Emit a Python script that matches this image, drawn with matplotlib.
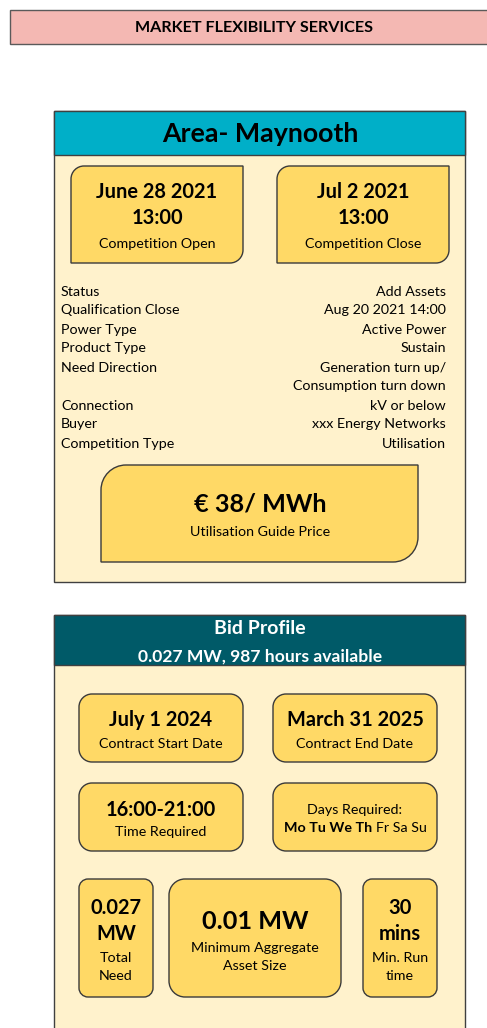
import matplotlib
matplotlib.use('Agg')
import matplotlib.pyplot as plt
from matplotlib.path import Path
import matplotlib.patches as mpatches

plt.rcParams['font.family'] = ['Lato', 'DejaVu Sans']

# =============================== #
# dados

titulo_banner = 'MARKET FLEXIBILITY SERVICES'
titulo_area = 'Area- Maynooth'

competicao_datas = ['June 28 2021', 'Jul 2 2021']
competicao_horas = ['13:00', '13:00']
competicao_rotulos = ['Competition Open', 'Competition Close']

info_rotulos = ['Status', 'Qualification Close', 'Power Type', 'Product Type',
                'Need Direction', '', 'Connection', 'Buyer', 'Competition Type']
info_valores = ['Add Assets', 'Aug 20 2021 14:00', 'Active Power', 'Sustain',
                'Generation turn up/', 'Consumption turn down', 'kV or below',
                'xxx Energy Networks', 'Utilisation']

preco_valor = '€ 38/ MWh'
preco_rotulo = 'Utilisation Guide Price'

bid_titulo = 'Bid Profile'
bid_subtitulo = '0.027 MW, 987 hours available'

contrato_valores = ['July 1 2024', 'March 31 2025']
contrato_rotulos = ['Contract Start Date', 'Contract End Date']
tempo_valor = '16:00-21:00'
tempo_rotulo = 'Time Required'
dias_titulo = 'Days Required:'
dias_sim = ['Mo', 'Tu', 'We', 'Th']
dias_nao = ['Fr', 'Sa', 'Su']

total_valor = ['0.027', 'MW']
total_rotulo = ['Total', 'Need']
minimo_valor = '0.01 MW'
minimo_rotulo = ['Minimum Aggregate', 'Asset Size']
run_valor = ['30', 'mins']
run_rotulo = ['Min. Run', 'time']

# =============================== #
# cores e tamanhos

cor_banner = '#F4B8B3'
cor_area = '#00AFC8'
cor_bid = '#005A68'
cor_corpo = '#FFF2CC'
cor_caixa = '#FFD966'
cor_borda = '#3A3A3A'

fonte_peq = 10.3
fonte_val = 14.4


def caixa(ax, x0, y0, x1, y1, r_tl=0, r_tr=0, r_br=0, r_bl=0, cor=cor_caixa, lw=1.0, borda=cor_borda):
    # retangulo com cantos arredondados individuais (y cresce para baixo)
    k = 0.5523
    v = []
    c = []

    def canto(p0, cc, p3):
        p1 = (p0[0] + k * (cc[0] - p0[0]), p0[1] + k * (cc[1] - p0[1]))
        p2 = (p3[0] + k * (cc[0] - p3[0]), p3[1] + k * (cc[1] - p3[1]))
        v.extend([p1, p2, p3])
        c.extend([Path.CURVE4] * 3)

    v.append((x0 + r_tl, y0)); c.append(Path.MOVETO)
    v.append((x1 - r_tr, y0)); c.append(Path.LINETO)
    if r_tr:
        canto((x1 - r_tr, y0), (x1, y0), (x1, y0 + r_tr))
    v.append((x1, y1 - r_br)); c.append(Path.LINETO)
    if r_br:
        canto((x1, y1 - r_br), (x1, y1), (x1 - r_br, y1))
    v.append((x0 + r_bl, y1)); c.append(Path.LINETO)
    if r_bl:
        canto((x0 + r_bl, y1), (x0, y1), (x0, y1 - r_bl))
    v.append((x0, y0 + r_tl)); c.append(Path.LINETO)
    if r_tl:
        canto((x0, y0 + r_tl), (x0, y0), (x0 + r_tl, y0))
    v.append((x0 + r_tl, y0)); c.append(Path.CLOSEPOLY)
    ax.add_patch(mpatches.PathPatch(Path(v, c), facecolor=cor, edgecolor=borda, lw=lw))


def texto(ax, x, y, s, tam, negrito=False, cor='black', ha='center'):
    # +1.5 px: centro do bbox do matplotlib fica um pouco acima do centro visual
    return ax.text(x, y + 1.5, s, fontsize=tam, fontweight='bold' if negrito else 'normal',
                   color=cor, ha=ha, va='center')


fig = plt.figure(figsize=(4.87, 10.28), dpi=100)
ax = fig.add_axes([0, 0, 1, 1])
ax.set_xlim(0, 487)
ax.set_ylim(1028, 0)
ax.axis('off')

# =============================== #
# banner

caixa(ax, 10, 10, 492, 44, cor=cor_banner, borda='#5A5A5A')
texto(ax, 254, 27, titulo_banner, 11.6, True)

# =============================== #
# painel area

caixa(ax, 54, 111, 465, 582, cor=cor_corpo, borda='#404040')
caixa(ax, 54, 111, 465, 155, cor=cor_area, borda='#404040')
texto(ax, 260, 133, titulo_area, 19.3, True)

for i, xc in enumerate([(71, 243), (277, 449)]):
    caixa(ax, xc[0], 166, xc[1], 263, r_tl=13, r_br=13)
    meio = (xc[0] + xc[1]) / 2
    texto(ax, meio, 191, competicao_datas[i], fonte_val, True)
    texto(ax, meio, 217, competicao_horas[i], fonte_val, True)
    texto(ax, meio, 242, competicao_rotulos[i], fonte_peq)

for i in range(len(info_valores)):
    y = 290 + 19 * i
    if info_rotulos[i]:
        texto(ax, 61, y, info_rotulos[i], fonte_peq, ha='left')
    texto(ax, 446, y, info_valores[i], fonte_peq, ha='right')

caixa(ax, 101, 465, 418, 562, r_tl=25, r_br=25)
texto(ax, 260, 503, preco_valor, 18.2, True)
texto(ax, 260, 531, preco_rotulo, fonte_peq)

# =============================== #
# painel bid profile

caixa(ax, 54, 615, 465, 1040, cor=cor_corpo, borda='#404040')
caixa(ax, 54, 615, 465, 665, cor=cor_bid, borda='#404040')
texto(ax, 260, 627, bid_titulo, 14, True, cor='white')
texto(ax, 260, 655, bid_subtitulo, 12.6, True, cor='white')

r = 13
for i, xc in enumerate([(79, 243), (273, 437)]):
    caixa(ax, xc[0], 694, xc[1], 762, r, r, r, r)
    meio = (xc[0] + xc[1]) / 2
    texto(ax, meio, 719, contrato_valores[i], fonte_val, True)
    texto(ax, meio, 743, contrato_rotulos[i], fonte_peq)

caixa(ax, 79, 783, 243, 851, r, r, r, r)
texto(ax, 161, 808, tempo_valor, fonte_val, True)
texto(ax, 161, 831, tempo_rotulo, fonte_peq)

caixa(ax, 273, 783, 437, 851, r, r, r, r)
texto(ax, 355, 809, dias_titulo, fonte_peq)
# dias: parte em negrito + parte normal, centrado no conjunto
t1 = texto(ax, 0, 827, ' '.join(dias_sim), fonte_peq, True, ha='left')
t2 = texto(ax, 0, 827, ' '.join(dias_nao), fonte_peq, ha='left')
rend = fig.canvas.get_renderer()
w1 = t1.get_window_extent(rend).width
w2 = t2.get_window_extent(rend).width
esp = 4
x_ini = 355 - (w1 + esp + w2) / 2
t1.set_x(x_ini)
t2.set_x(x_ini + w1 + esp)

r2 = 9
caixa(ax, 79, 879, 153, 997, r2, r2, r2, r2)
texto(ax, 116, 907, total_valor[0], fonte_val, True)
texto(ax, 116, 932, total_valor[1], fonte_val, True)
texto(ax, 116, 957, total_rotulo[0], fonte_peq)
texto(ax, 116, 975, total_rotulo[1], fonte_peq)

caixa(ax, 169, 879, 341, 997, 16, 16, 16, 16)
texto(ax, 255, 920, minimo_valor, 18.2, True)
texto(ax, 255, 947, minimo_rotulo[0], fonte_peq)
texto(ax, 255, 965, minimo_rotulo[1], fonte_peq)

caixa(ax, 363, 879, 437, 997, r2, r2, r2, r2)
texto(ax, 400, 907, run_valor[0], fonte_val, True)
texto(ax, 400, 932, run_valor[1], fonte_val, True)
texto(ax, 400, 957, run_rotulo[0], fonte_peq)
texto(ax, 400, 975, run_rotulo[1], fonte_peq)

plt.savefig('out.png', dpi=100)
